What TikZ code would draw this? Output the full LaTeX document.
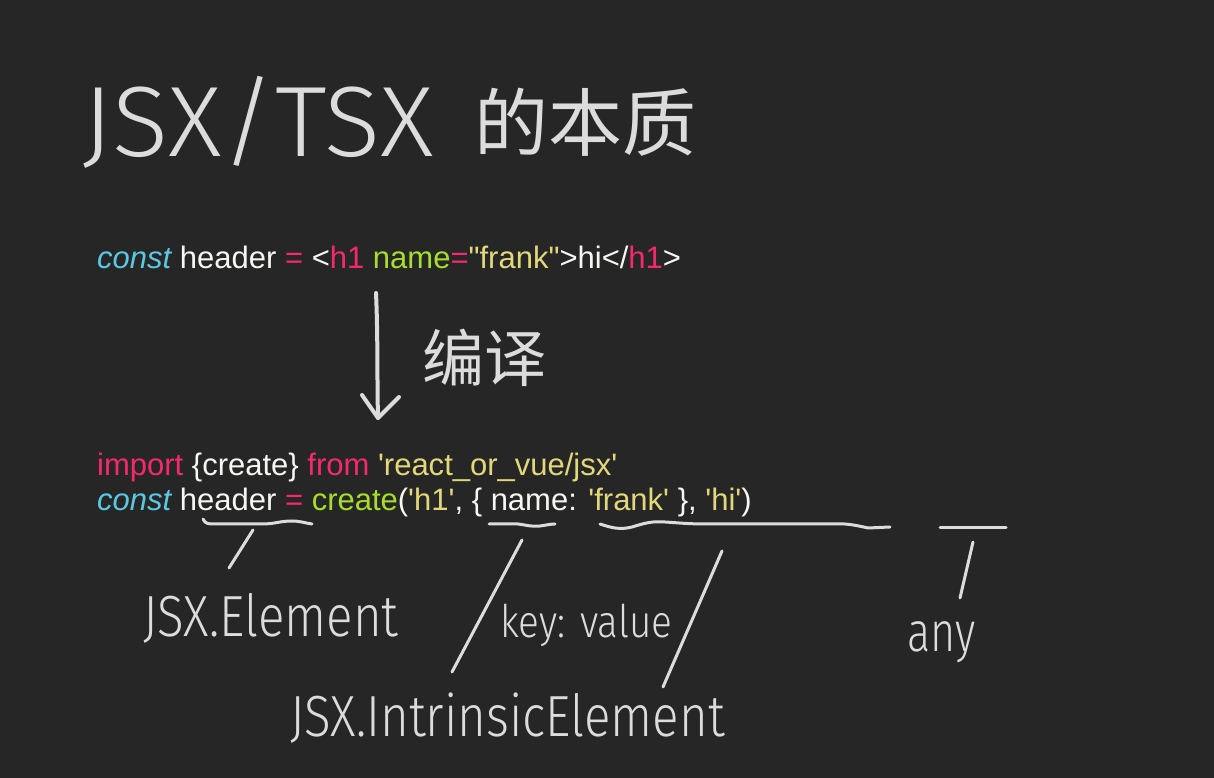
\documentclass[tikz,border=0pt]{standalone}
\usepackage{fontspec}
\usepackage{graphicx}
\setmainfont{Liberation Sans}
\newfontfamily\codefont{Liberation Sans}[Ligatures=TeXOff]
\newfontfamily\handfont{Fira Sans}[UprightFont=* Light]
\newfontfamily\cjk{Noto Sans CJK SC}
\definecolor{bg}{HTML}{262626}
\definecolor{kw}{HTML}{F6296E}
\definecolor{cy}{HTML}{5BC8E2}
\definecolor{gr}{HTML}{A6DE2B}
\definecolor{ye}{HTML}{E2D87A}
\definecolor{fg}{HTML}{F6F6F2}
\definecolor{ink}{HTML}{DCDCDC}
\tikzset{
  codeline/.style={anchor=base west, inner sep=0pt, font=\codefont\fontsize{31}{36}\selectfont},
  handtext/.style={anchor=base west, inner sep=0pt, text=ink},
  stroke/.style={draw=ink, line width=3pt, line cap=round, line join=round},
}
\begin{document}
\begin{tikzpicture}[x=1pt,y=1pt]
\fill[bg] (0,0) rectangle (1214,778);
\useasboundingbox (0,0) rectangle (1214,778);
% title
\node[handtext, font=\handfont\fontsize{100}{110}\selectfont] (title) at (82,621) {\scalebox{1.04}[1]{JSX/TSX}};
\node[anchor=west, inner sep=0pt, text=ink, font=\cjk\fontsize{74}{80}\selectfont] (titlecn) at (474,656) {的本质};
% code line 1
\node[codeline] (line1) at (97,509) {\textcolor{cy}{\itshape const} \textcolor{fg}{header} \textcolor{kw}{=} \textcolor{fg}{<}\textcolor{kw}{h1} \textcolor{gr}{name}\textcolor{kw}{=}\textcolor{ye}{"frank"}\textcolor{fg}{>hi</}\textcolor{kw}{h1}\textcolor{fg}{>}};
% compile arrow
\coordinate (atop) at (376,485);
\coordinate (atip) at (378,360);
\draw[stroke, line width=4pt] (atop) .. controls (378,440) and (377,400) .. (atip);
\draw[stroke, line width=4pt] (362,383) -- (atip) -- (399,381);
\node[anchor=west, inner sep=0pt, text=ink, font=\cjk\fontsize{62}{70}\selectfont] (compile) at (422,420) {编译};
% code lines 2 and 3
\node[codeline] (line2) at (97,302) {\textcolor{kw}{import} \textcolor{fg}{\{create\}} \textcolor{kw}{from} \textcolor{ye}{'react\_or\_vue/jsx'}};
\node[codeline] (line3) at (97,267) {\textcolor{cy}{\itshape const} \textcolor{fg}{header} \textcolor{kw}{=} \textcolor{gr}{create}\textcolor{fg}{(}\textcolor{ye}{'h1'}\textcolor{fg}{,} \textcolor{fg}{\{} \textcolor{fg}{name:} \textcolor{ye}{'frank'} \textcolor{fg}{\},} \textcolor{ye}{'hi'}\textcolor{fg}{)}};
% underline header + JSX.Element
\draw[stroke] (203,259) .. controls (206,254) .. (220,254) -- (262,254) .. controls (275,254) and (280,257) .. (292,257) .. controls (300,257) and (305,255) .. (312,254);
\coordinate (s1a) at (253,248);
\coordinate (s1b) at (229,210);
\draw[stroke] (s1a) -- (s1b);
\node[handtext, font=\handfont\fontsize{58}{64}\selectfont] (elem) at (143,141) {\scalebox{0.85}[1]{JSX.Element}};
% underline name + slashes
\draw[stroke] (489,254) -- (518,254) .. controls (526,253) and (532,251) .. (540,252) .. controls (547,253) and (551,254) .. (555,254);
\draw[stroke] (600,254) .. controls (612,250) and (620,248) .. (632,251) .. controls (645,255) and (652,257) .. (665,256) .. controls (680,255) and (690,254) .. (705,254) -- (830,254) .. controls (845,255) and (855,253) .. (868,250) -- (890,251);
\coordinate (s2a) at (522,238);
\coordinate (s2b) at (452,106);
\draw[stroke] (s2a) -- (s2b);
\coordinate (s3a) at (722,227);
\coordinate (s3b) at (663,91);
\draw[stroke] (s3a) -- (s3b);
\node[handtext, font=\handfont\fontsize{45}{50}\selectfont] (kv) at (500,140) {\scalebox{0.86}[1]{key: value}};
\node[handtext, font=\handfont\fontsize{58}{64}\selectfont] (intr) at (290,41) {\scalebox{0.85}[1]{JSX.IntrinsicElement}};
% any
\coordinate (ra) at (940,250);
\coordinate (rb) at (1006,250);
\draw[stroke] (ra) -- (rb);
\coordinate (s4a) at (973,236);
\coordinate (s4b) at (960,180);
\draw[stroke] (s4a) -- (s4b);
\node[handtext, font=\handfont\fontsize{56}{60}\selectfont] (anynode) at (907,126) {\scalebox{0.77}[1]{any}};
\end{tikzpicture}
\end{document}
